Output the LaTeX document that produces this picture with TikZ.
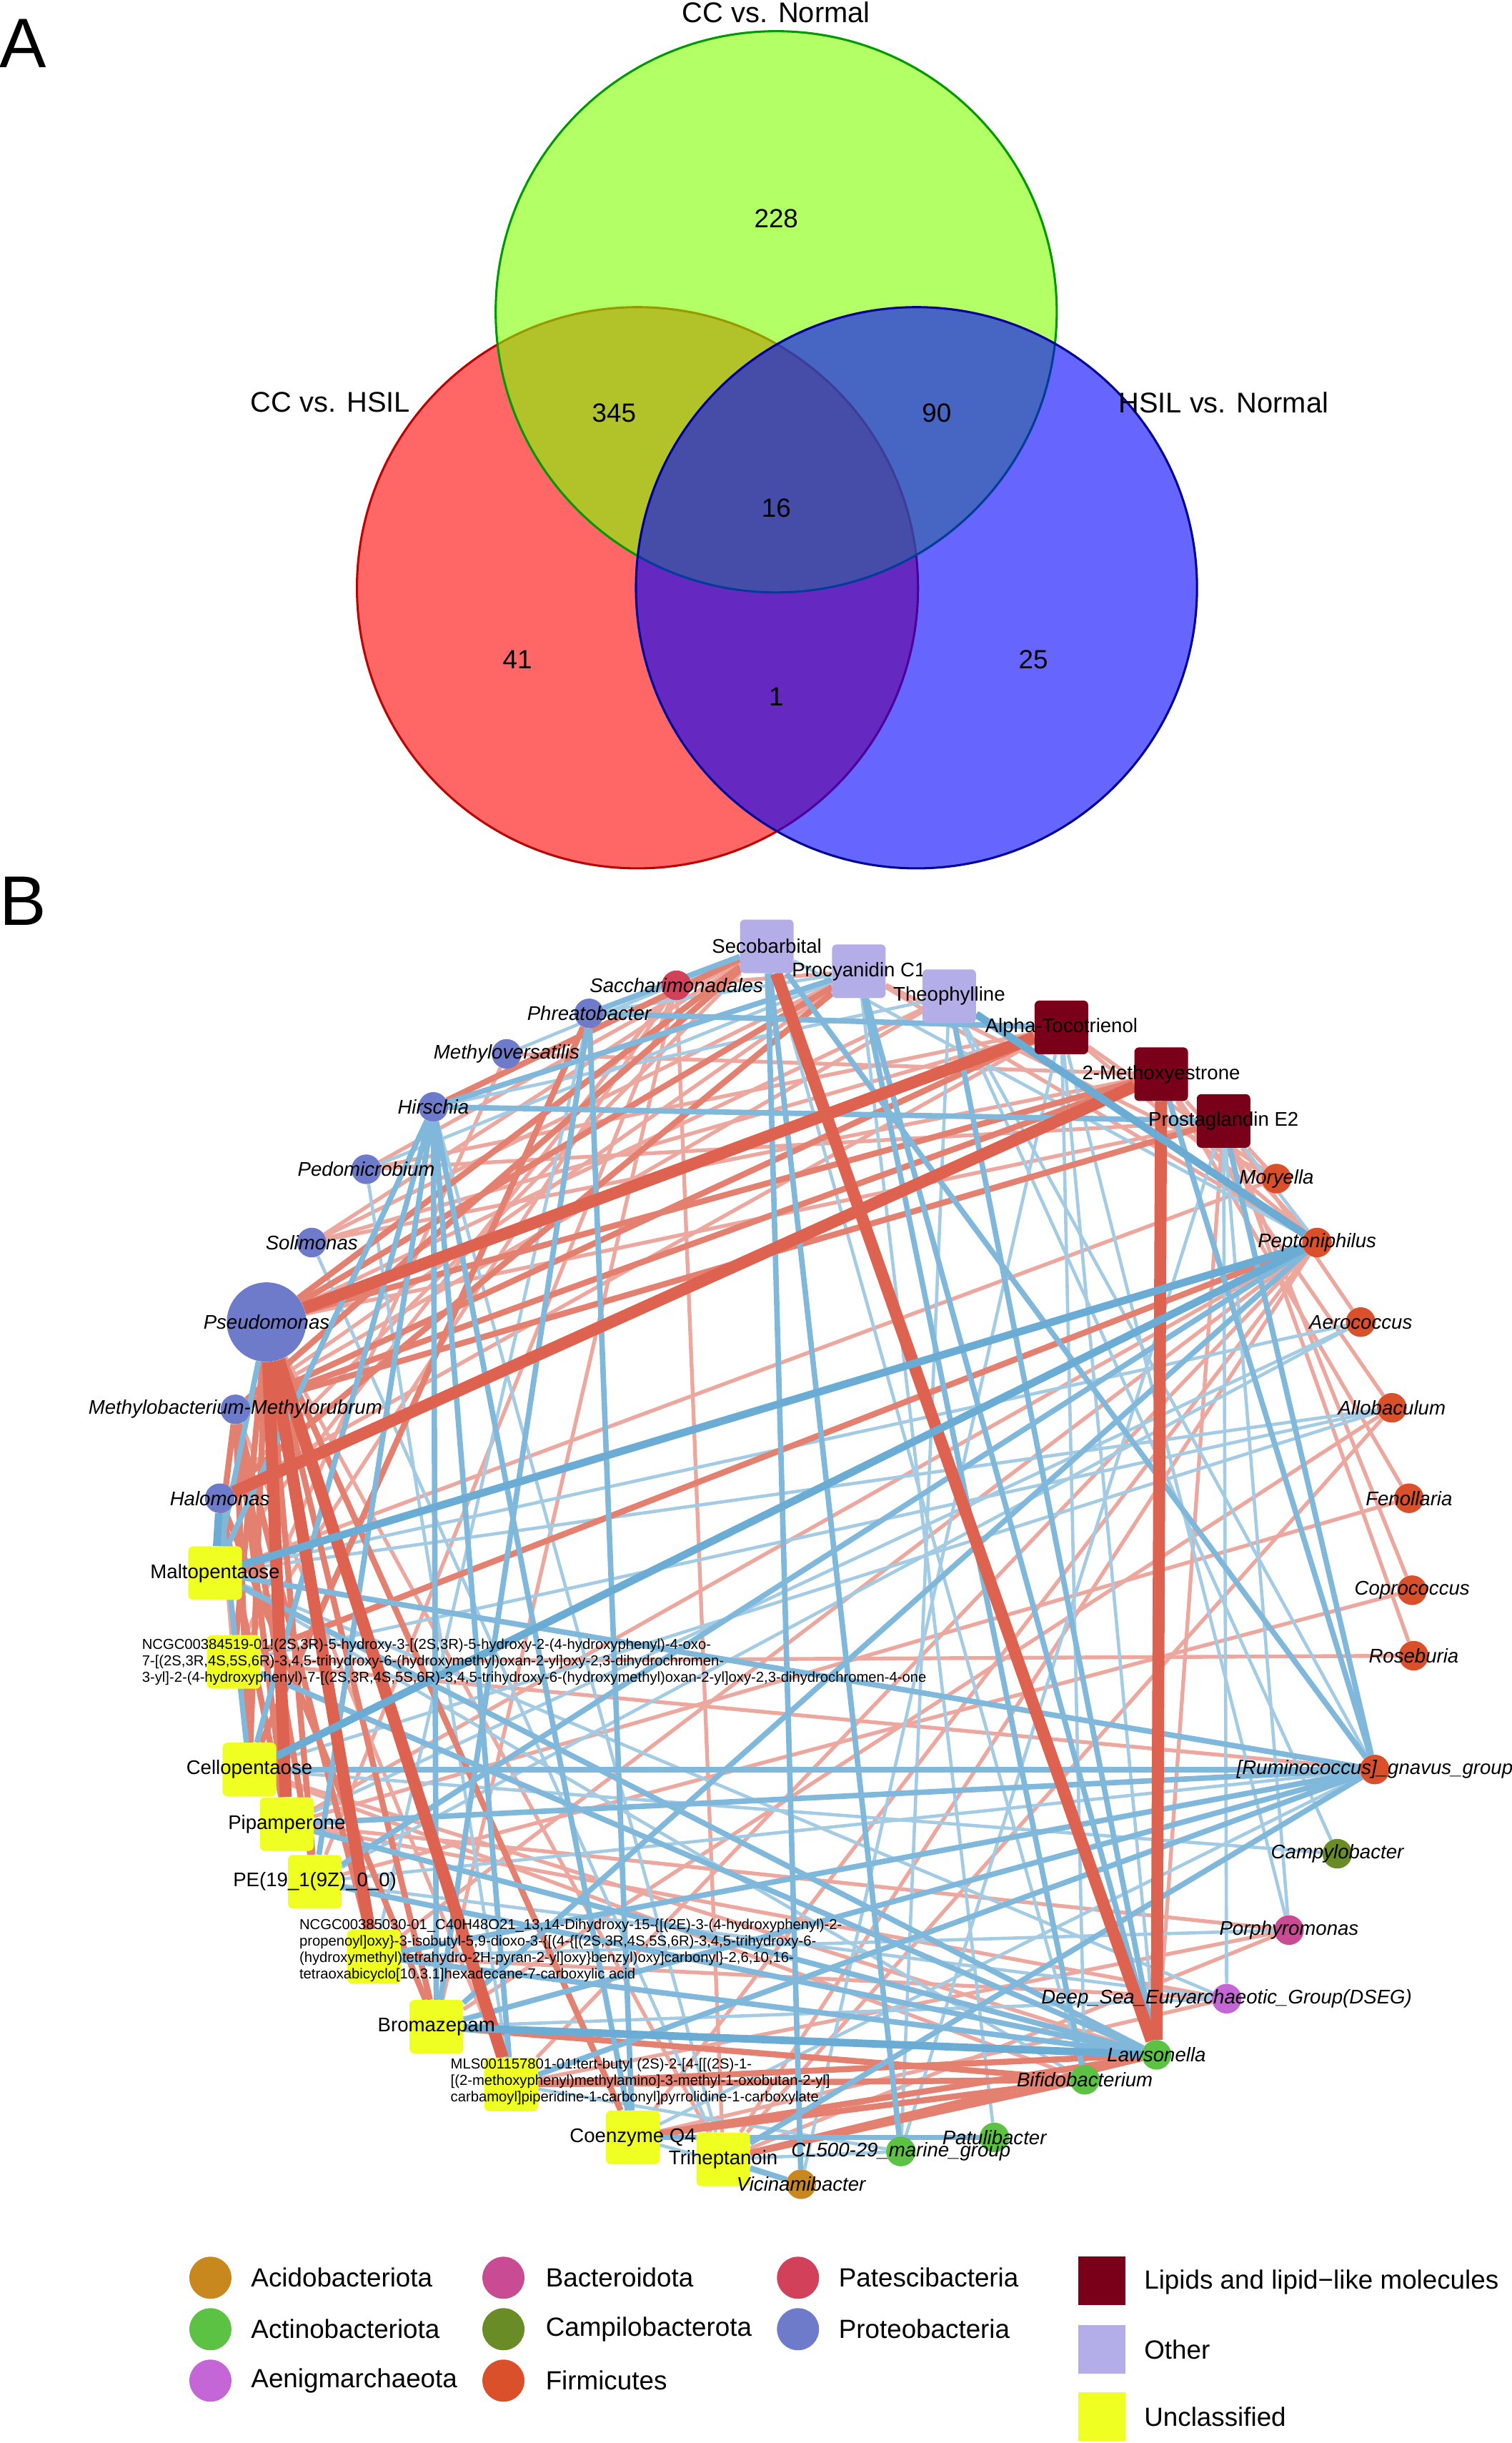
\documentclass[tikz,border=0pt]{standalone}
\usepackage{fontspec}
\setmainfont{Liberation Sans}
\usetikzlibrary{backgrounds}

% phylum / class colours
\definecolor{acido}{HTML}{C8881E}
\definecolor{actino}{HTML}{5CC244}
\definecolor{aenig}{HTML}{C466D6}
\definecolor{bactero}{HTML}{C84B93}
\definecolor{campi}{HTML}{6A8C26}
\definecolor{firmi}{HTML}{D9502B}
\definecolor{pates}{HTML}{D2415A}
\definecolor{proteo}{HTML}{6E7BCB}
\definecolor{lipid}{HTML}{7A0019}
\definecolor{other}{HTML}{B4AEE8}
\definecolor{uncl}{HTML}{F0FF22}
% correlation colours
\definecolor{redS}{RGB}{221,98,80}
\definecolor{redM}{RGB}{228,128,112}
\definecolor{redL}{RGB}{236,168,158}
\definecolor{bluS}{RGB}{107,172,212}
\definecolor{bluM}{RGB}{128,184,220}
\definecolor{bluL}{RGB}{163,204,228}
% venn
\definecolor{vennR}{RGB}{255,0,0}
\definecolor{vennG}{RGB}{127,255,0}
\definecolor{vennB}{RGB}{0,0,255}

\tikzset{
  vset/.style={circle, minimum size=18cm, inner sep=0pt, fill opacity=0.6, line width=2pt},
  vlbl/.style={font=\fontsize{26}{30}\selectfont},
  vnum/.style={font=\fontsize{24}{28}\selectfont},
  panel/.style={font=\fontsize{64}{70}\selectfont},
  taxon/.style={circle, minimum size=0.95cm, inner sep=0pt},
  metab/.style={rectangle, rounded corners=0.15cm, minimum size=1.72cm, inner sep=0pt},
  tname/.style={font=\fontsize{18}{20}\selectfont\itshape, inner sep=0pt},
  mname/.style={font=\fontsize{18}{20}\selectfont, inner sep=0pt},
  chem/.style={font=\fontsize{13.2}{15}\selectfont, align=left, anchor=west, inner sep=0pt},
  legc/.style={circle, minimum size=1.35cm, inner sep=0pt},
  legs/.style={rectangle, minimum width=1.5cm, minimum height=1.55cm, inner sep=0pt},
  legt/.style={font=\fontsize{24}{28}\selectfont, anchor=west, inner sep=0pt},
  rs/.style={draw=redS, line width=11pt},
  rm/.style={draw=redM, line width=5.5pt},
  rl/.style={draw=redL, line width=3.5pt},
  bs/.style={draw=bluS, line width=7pt},
  bm/.style={draw=bluM, line width=5pt},
  bl/.style={draw=bluL, line width=3pt}
}

\begin{document}
\begin{tikzpicture}[x=0.05cm, y=-0.05cm]
\useasboundingbox (0,0) rectangle (970,1567);

% ---- panel A
\node[panel] (panA) at (15,28) {A};
\node[vset, fill=vennR, draw=red!75!black] (hsil) at (409,377) {};
\node[vset, fill=vennG, draw=green!60!black] (norm) at (498,200) {};
\node[vset, fill=vennB, draw=blue!60!black] (hnorm) at (588,377) {};
\node[vlbl] (lnorm) at (498,8) {CC vs. Normal};
\node[vlbl] (lhsil) at (212,258) {CC vs. HSIL};
\node[vlbl] (lhnorm) at (785,258) {HSIL vs. Normal};
\node[vnum] (n228) at (498,140) {228};
\node[vnum] (n345) at (394,265) {345};
\node[vnum] (n90) at (601,265) {90};
\node[vnum] (n16) at (498,326) {16};
\node[vnum] (n41) at (332,423) {41};
\node[vnum] (n1) at (498,447) {1};
\node[vnum] (n25) at (663,423) {25};

% ---- panel B
\node[panel] (panB) at (15,578) {B};

% metabolites
\node[metab, fill=other, label={[mname]center:Secobarbital}] (seco) at (492,607) {};
\node[metab, fill=other, label={[mname]center:Procyanidin C1}] (procy) at (551,623) {};
\node[metab, fill=other, label={[mname]center:Theophylline}] (theo) at (609,639) {};
\node[metab, fill=lipid, label={[mname]center:Alpha-Tocotrienol}] (alpha) at (681,659) {};
\node[metab, fill=lipid, label={[mname]center:2-Methoxyestrone}] (meth) at (745,689) {};
\node[metab, fill=lipid, label={[mname]center:Prostaglandin E2}] (prost) at (785,719) {};
\node[metab, fill=uncl, label={[mname]center:Maltopentaose}] (malto) at (138,1009) {};
\node[metab, fill=uncl] (ncgcA) at (150,1066) {};
\node[metab, fill=uncl, label={[mname]center:Cellopentaose}] (cello) at (160,1135) {};
\node[metab, fill=uncl, label={[mname]center:Pipamperone}] (pipam) at (184,1170) {};
\node[metab, fill=uncl, label={[mname]center:PE(19\_1(9Z)\_0\_0)}] (pe) at (202,1207) {};
\node[metab, fill=uncl] (ncgcB) at (240,1255) {};
\node[metab, fill=uncl, label={[mname]center:Bromazepam}] (broma) at (280,1300) {};
\node[metab, fill=uncl] (mls) at (328,1337) {};
\node[metab, fill=uncl, label={[mname]center:Coenzyme Q4}] (coq) at (406,1371) {};
\node[metab, fill=uncl, label={[mname]center:Triheptanoin}] (trih) at (464,1385) {};

\node[chem] (ncgcAtxt) at (91,1066) {NCGC00384519-01!(2S,3R)-5-hydroxy-3-[(2S,3R)-5-hydroxy-2-(4-hydroxyphenyl)-4-oxo-\\7-[(2S,3R,4S,5S,6R)-3,4,5-trihydroxy-6-(hydroxymethyl)oxan-2-yl]oxy-2,3-dihydrochromen-\\3-yl]-2-(4-hydroxyphenyl)-7-[(2S,3R,4S,5S,6R)-3,4,5-trihydroxy-6-(hydroxymethyl)oxan-2-yl]oxy-2,3-dihydrochromen-4-one};
\node[chem] (ncgcBtxt) at (192,1251) {NCGC00385030-01\_C40H48O21\_13,14-Dihydroxy-15-\{[(2E)-3-(4-hydroxyphenyl)-2-\\propenoyl]oxy\}-3-isobutyl-5,9-dioxo-3-\{[(4-\{[(2S,3R,4S,5S,6R)-3,4,5-trihydroxy-6-\\(hydroxymethyl)tetrahydro-2H-pyran-2-yl]oxy\}benzyl)oxy]carbonyl\}-2,6,10,16-\\tetraoxabicyclo[10.3.1]hexadecane-7-carboxylic acid};
\node[chem] (mlstxt) at (289,1335) {MLS001157801-01!tert-butyl (2S)-2-[4-[[(2S)-1-\\{}[(2-methoxyphenyl)methylamino]-3-methyl-1-oxobutan-2-yl]\\carbamoyl]piperidine-1-carbonyl]pyrrolidine-1-carboxylate};

% taxa
\node[taxon, fill=pates, label={[tname]center:Saccharimonadales}] (sacch) at (434,632) {};
\node[taxon, fill=proteo, label={[tname]center:Phreatobacter}] (phrea) at (378,650) {};
\node[taxon, fill=proteo, label={[tname]center:Methyloversatilis}] (mversa) at (325,676) {};
\node[taxon, fill=proteo, label={[tname]center:Hirschia}] (hirs) at (278,710) {};
\node[taxon, fill=proteo, label={[tname]center:Pedomicrobium}] (pedo) at (235,750) {};
\node[taxon, fill=proteo, label={[tname]center:Solimonas}] (soli) at (200,797) {};
\node[taxon, fill=proteo, minimum size=2.55cm, label={[tname]center:Pseudomonas}] (pseudo) at (171,848) {};
\node[taxon, fill=proteo, label={[tname]center:Methylobacterium-Methylorubrum}] (mbact) at (151,904) {};
\node[taxon, fill=proteo, label={[tname]center:Halomonas}] (halo) at (141,961) {};
\node[taxon, fill=firmi, label={[tname]center:Moryella}] (mory) at (819,756) {};
\node[taxon, fill=firmi, label={[tname]center:Peptoniphilus}] (pept) at (845,797) {};
\node[taxon, fill=firmi, label={[tname]center:Aerococcus}] (aero) at (873,848) {};
\node[taxon, fill=firmi, label={[tname]center:Allobaculum}] (allo) at (893,903) {};
\node[taxon, fill=firmi, label={[tname]center:Fenollaria}] (feno) at (904,961) {};
\node[taxon, fill=firmi, label={[tname]center:Coprococcus}] (copro) at (906,1020) {};
\node[taxon, fill=firmi, label={[tname]center:Roseburia}] (rose) at (907,1062) {};
\node[taxon, fill=firmi, label={[tname]center:{\relax[Ruminococcus]\_gnavus\_group}}] (rumi) at (882,1135) {};
\node[taxon, fill=campi, label={[tname]center:Campylobacter}] (campy) at (858,1189) {};
\node[taxon, fill=bactero, label={[tname]center:Porphyromonas}] (porph) at (827,1238) {};
\node[taxon, fill=aenig, label={[tname]center:Deep\_Sea\_Euryarchaeotic\_Group(DSEG)}] (dseg) at (787,1282) {};
\node[taxon, fill=actino, label={[tname]center:Lawsonella}] (laws) at (742,1318) {};
\node[taxon, fill=actino, label={[tname]center:Bifidobacterium}] (bifi) at (696,1334) {};
\node[taxon, fill=actino, label={[tname]center:Patulibacter}] (patu) at (638,1371) {};
\node[taxon, fill=actino, label={[tname]center:CL500-29\_marine\_group}] (cl500) at (578,1380) {};
\node[taxon, fill=acido, label={[tname]center:Vicinamibacter}] (vici) at (514,1401) {};

% correlations
\begin{scope}[on background layer]
\foreach \a/\b in {seco/halo, seco/soli, seco/pedo, procy/mbact, procy/soli, procy/mory, procy/sacch, procy/pept,
  theo/pseudo, theo/mbact, alpha/halo, alpha/soli, alpha/pept, alpha/mory, alpha/pedo, meth/mversa, meth/soli,
  meth/pept, meth/allo, meth/feno, prost/pseudo, prost/pedo, prost/mory, prost/aero, prost/copro, prost/rose,
  prost/laws, malto/sacch, malto/mory, ncgcA/halo, ncgcA/sacch, ncgcA/mversa, ncgcA/rose, ncgcA/rumi, pe/sacch,
  pe/copro, broma/sacch, broma/allo, trih/sacch, trih/pseudo, trih/pept, trih/allo, trih/porph, cello/laws,
  cello/bifi, pipam/pept, pipam/feno, pipam/porph, pipam/dseg, ncgcB/pept, ncgcB/dseg, mls/pept, mls/porph,
  mls/mbact, coq/pept, coq/dseg}
  \draw[rl] (\a) -- (\b);
\foreach \a/\b in {seco/mversa, seco/pept, seco/bifi, procy/pedo, procy/patu, procy/phrea, theo/hirs, theo/rumi,
  theo/campy, theo/cl500, alpha/laws, alpha/porph, alpha/bifi, alpha/vici, prost/pept, prost/porph, prost/dseg,
  prost/cl500, malto/allo, malto/aero, malto/bifi, malto/dseg, cello/campy, cello/allo, pe/aero, pe/rumi, pe/dseg,
  ncgcB/porph, ncgcB/phrea, broma/dseg, coq/rumi, coq/vici, trih/hirs, trih/soli, trih/cl500, mls/pedo, mls/cl500,
  ncgcA/allo, pipam/aero}
  \draw[bl] (\a) -- (\b);
\foreach \a/\b in {seco/pseudo, seco/mbact, seco/hirs, procy/pseudo, procy/halo, alpha/mbact, meth/pseudo,
  meth/mbact, prost/mbact, malto/mbact, ncgcA/pseudo, ncgcA/pept, cello/pseudo, cello/mbact, cello/phrea,
  pipam/halo, pipam/mbact, pe/pseudo, pe/mbact, ncgcB/mbact, broma/pseudo, broma/halo, coq/pseudo, mls/laws,
  coq/laws, trih/laws, mls/bifi, coq/bifi, trih/bifi, broma/bifi}
  \draw[rm] (\a) -- (\b);
\foreach \a/\b in {seco/phrea, seco/rumi, seco/vici, seco/cl500, procy/hirs, procy/laws, procy/bifi, theo/laws,
  alpha/phrea, meth/rumi, prost/hirs, prost/rumi, malto/pseudo, malto/rumi, malto/hirs, malto/laws, ncgcA/laws,
  cello/halo, cello/rumi, cello/hirs, pipam/rumi, pipam/laws, pe/pept, pe/hirs, pe/laws, ncgcB/rumi, ncgcB/laws,
  broma/pept, broma/rumi, broma/hirs, broma/phrea, mls/rumi, mls/hirs, coq/hirs, coq/phrea, coq/patu, trih/rumi,
  trih/vici}
  \draw[bm] (\a) -- (\b);
\foreach \a/\b in {pseudo/alpha, halo/meth, seco/laws, meth/laws, pipam/pseudo, ncgcB/pseudo, mls/pseudo}
  \draw[rs] (\a) -- (\b);
\foreach \a/\b in {theo/pept, malto/pept, malto/halo, cello/pept, broma/laws}
  \draw[bs] (\a) -- (\b);
\end{scope}

% legend
\node[legc, fill=acido] (kacido) at (135,1461) {};
\node[legt] (tacido) at (161,1461) {Acidobacteriota};
\node[legc, fill=actino] (kactino) at (135,1494) {};
\node[legt] (tactino) at (161,1494) {Actinobacteriota};
\node[legc, fill=aenig] (kaenig) at (135,1527) {};
\node[legt] (taenig) at (161,1527) {Aenigmarchaeota};
\node[legc, fill=bactero] (kbactero) at (323,1461) {};
\node[legt] (tbactero) at (350,1461) {Bacteroidota};
\node[legc, fill=campi] (kcampi) at (323,1494) {};
\node[legt] (tcampi) at (350,1494) {Campilobacterota};
\node[legc, fill=firmi] (kfirmi) at (323,1527) {};
\node[legt] (tfirmi) at (350,1527) {Firmicutes};
\node[legc, fill=pates] (kpates) at (512,1461) {};
\node[legt] (tpates) at (538,1461) {Patescibacteria};
\node[legc, fill=proteo] (kproteo) at (512,1494) {};
\node[legt] (tproteo) at (538,1494) {Proteobacteria};
\node[legs, fill=lipid] (klipid) at (707,1463) {};
\node[legt] (tlipid) at (734,1464) {Lipids and lipid−like molecules};
\node[legs, fill=other] (kother) at (707,1507) {};
\node[legt] (tother) at (734,1507) {Other};
\node[legs, fill=uncl] (kuncl) at (707,1550) {};
\node[legt] (tuncl) at (734,1550) {Unclassified};
\end{tikzpicture}
\end{document}
